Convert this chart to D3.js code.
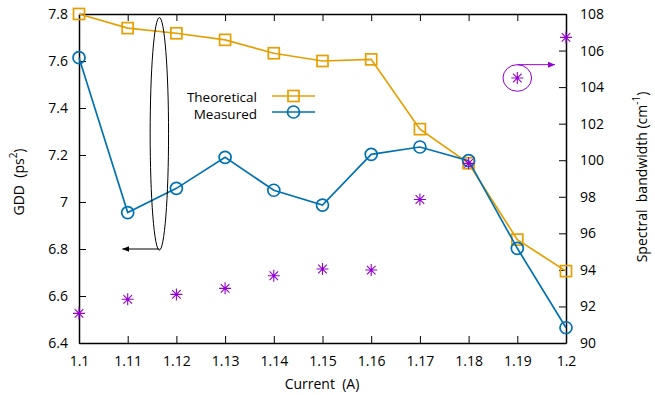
<!DOCTYPE html>
<meta charset="utf-8">
<head>
<script src="https://d3js.org/d3.v7.min.js"></script>
<style>
  body { margin: 0; background: #fff; }
  text { font-family: "Open Sans", "Noto Sans", sans-serif; fill: #000; white-space: pre; }
</style>
</head>
<body>
<svg id="chart" width="655" height="395"></svg>
<script>
// data
var current = [1.10, 1.11, 1.12, 1.13, 1.14, 1.15, 1.16, 1.17, 1.18, 1.19, 1.20];
var theoretical = [7.80, 7.74, 7.718, 7.69, 7.633, 7.60, 7.607, 7.31, 7.165, 6.84, 6.706];
var measured = [7.614, 6.955, 7.058, 7.19, 7.05, 6.987, 7.203, 7.234, 7.176, 6.803, 6.465];
var bandwidth = [91.62, 92.39, 92.66, 92.99, 93.68, 94.05, 93.99, 97.85, 99.83, 104.5, 106.72];

var xTicks = [1.1, 1.11, 1.12, 1.13, 1.14, 1.15, 1.16, 1.17, 1.18, 1.19, 1.2];
var yTicks = [6.4, 6.6, 6.8, 7, 7.2, 7.4, 7.6, 7.8];
var y2Ticks = [90, 92, 94, 96, 98, 100, 102, 104, 106, 108];

var orange = "#e69f00", blue = "#0072b2", purple = "#9400d3";

var svg = d3.select("#chart");
var pLeft = 79, pRight = 566, pTop = 14, pBottom = 343;

var x = d3.scaleLinear().domain([1.1, 1.2]).range([pLeft, pRight]);
var y = d3.scaleLinear().domain([6.4, 7.8]).range([pBottom, pTop]);
var y2 = d3.scaleLinear().domain([90, 108]).range([pBottom, pTop]);

var fmt = function(d) { return String(+d.toFixed(2)); };

// axes, ticks drawn inward
svg.append("g").attr("transform", "translate(0," + pBottom + ")")
  .call(d3.axisBottom(x).tickValues(xTicks).tickFormat(fmt).tickSizeInner(-7).tickSizeOuter(0).tickPadding(13));
svg.append("g").attr("transform", "translate(0," + pTop + ")")
  .call(d3.axisTop(x).tickValues(xTicks).tickFormat("").tickSizeInner(-7).tickSizeOuter(0));
svg.append("g").attr("transform", "translate(" + pLeft + ",0)")
  .call(d3.axisLeft(y).tickValues(yTicks).tickFormat(fmt).tickSizeInner(-7).tickSizeOuter(0).tickPadding(11));
svg.append("g").attr("transform", "translate(" + pRight + ",0)")
  .call(d3.axisRight(y2).tickValues(y2Ticks).tickFormat(d3.format("d")).tickSizeInner(-7).tickSizeOuter(0).tickPadding(14));

svg.selectAll(".domain").attr("stroke", "#000").attr("stroke-width", 1.5);
svg.selectAll(".tick line").attr("stroke", "#000").attr("stroke-width", 1);
svg.selectAll(".tick text").style("font-size", "14px").style("font-family", "'Open Sans', sans-serif");

// axis labels
svg.append("text").attr("x", 322).attr("y", 389).attr("text-anchor", "middle")
  .style("font-size", "14px").text("Current  (A)");

var gl = svg.append("text").attr("transform", "translate(24,182) rotate(-90)")
  .attr("text-anchor", "middle").style("font-size", "14px");
gl.append("tspan").text("GDD  (ps");
gl.append("tspan").attr("dy", -7).style("font-size", "10px").text("2");
gl.append("tspan").attr("dy", 7).text(")");

var gr = svg.append("text").attr("transform", "translate(647,177) rotate(-90)")
  .attr("text-anchor", "middle").style("font-size", "14px");
gr.append("tspan").text("Spectral  bandwidth (cm");
gr.append("tspan").attr("dy", -7).style("font-size", "10px").text("-1");
gr.append("tspan").attr("dy", 7).text(")");

// lines
var lineY = d3.line().x(function(d, i) { return x(current[i]); }).y(function(d) { return y(d); });

svg.append("path").datum(theoretical).attr("d", lineY)
  .attr("fill", "none").attr("stroke", orange).attr("stroke-width", 1.7);
svg.selectAll(".sq").data(theoretical).enter().append("rect")
  .attr("x", function(d, i) { return x(current[i]) - 5.5; })
  .attr("y", function(d) { return y(d) - 5.5; })
  .attr("width", 11).attr("height", 11)
  .attr("fill", "none").attr("stroke", orange).attr("stroke-width", 1.7);

svg.append("path").datum(measured).attr("d", lineY)
  .attr("fill", "none").attr("stroke", blue).attr("stroke-width", 1.7);
svg.selectAll(".ci").data(measured).enter().append("circle")
  .attr("cx", function(d, i) { return x(current[i]); })
  .attr("cy", function(d) { return y(d); })
  .attr("r", 6)
  .attr("fill", "none").attr("stroke", blue).attr("stroke-width", 1.7);

// asterisks for bandwidth
var star = "M-6,0H6M0,-6V6M-4.3,-4.3L4.3,4.3M-4.3,4.3L4.3,-4.3";
svg.selectAll(".st").data(bandwidth).enter().append("path")
  .attr("transform", function(d, i) { return "translate(" + x(current[i]) + "," + y2(d) + ")"; })
  .attr("d", star).attr("fill", "none").attr("stroke", purple).attr("stroke-width", 1.1);

// legend
var legend = [["Theoretical", orange, "sq", 96, 102], ["Measured", blue, "ci", 112, 119]];
legend.forEach(function(l) {
  svg.append("text").attr("x", 257).attr("y", l[4]).attr("text-anchor", "end")
    .style("font-size", "13.5px").text(l[0]);
  svg.append("line").attr("x1", 272).attr("x2", 315).attr("y1", l[3]).attr("y2", l[3])
    .attr("stroke", l[1]).attr("stroke-width", 1.7);
  if (l[2] == "sq") {
    svg.append("rect").attr("x", 293.5 - 5.5).attr("y", l[3] - 5.5).attr("width", 11).attr("height", 11)
      .attr("fill", "none").attr("stroke", l[1]).attr("stroke-width", 1.7);
  } else {
    svg.append("circle").attr("cx", 293.5).attr("cy", l[3]).attr("r", 6)
      .attr("fill", "none").attr("stroke", l[1]).attr("stroke-width", 1.7);
  }
});

// annotations: ellipse + arrow pointing to left axis, circle + arrow to right axis
var defs = svg.append("defs");
[["ahBlack", "#000"], ["ahPurple", purple]].forEach(function(m) {
  defs.append("marker").attr("id", m[0]).attr("viewBox", "0 0 10 10")
    .attr("refX", 10).attr("refY", 5).attr("markerWidth", 7).attr("markerHeight", 6)
    .attr("markerUnits", "userSpaceOnUse").attr("orient", "auto").attr("preserveAspectRatio", "none")
    .append("path").attr("d", "M0,0L10,5L0,10z").attr("fill", m[1]);
});

svg.append("ellipse").attr("cx", x(1.1165)).attr("cy", y(7.29)).attr("rx", 9.2).attr("ry", 116.3)
  .attr("fill", "none").attr("stroke", "#000").attr("stroke-width", 1);
svg.append("line").attr("x1", x(1.1165)).attr("y1", y(6.8)).attr("x2", x(1.1089)).attr("y2", y(6.8))
  .attr("stroke", "#000").attr("stroke-width", 1).attr("marker-end", "url(#ahBlack)");

svg.append("ellipse").attr("cx", x(1.19)).attr("cy", y2(104.5)).attr("rx", 14.3).attr("ry", 13.3)
  .attr("fill", "none").attr("stroke", purple).attr("stroke-width", 1);
svg.append("line").attr("x1", x(1.19)).attr("y1", y2(104.5) - 13.3).attr("x2", 555).attr("y2", y2(104.5) - 13.3)
  .attr("stroke", purple).attr("stroke-width", 1).attr("marker-end", "url(#ahPurple)");
</script>
</body>
